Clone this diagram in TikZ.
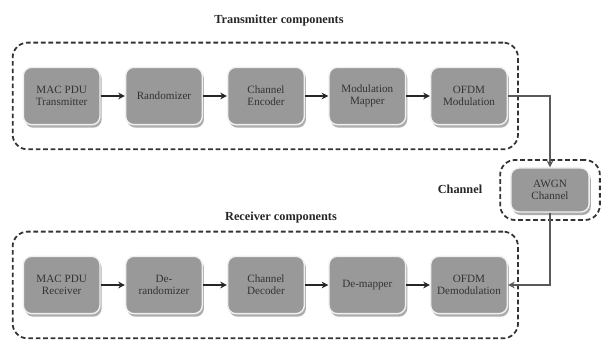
\documentclass[tikz,border=0pt]{standalone}
\usepackage{fontspec}
\setmainfont{Liberation Serif}
\usepackage{tikz}
\usetikzlibrary{arrows.meta,positioning,fit,shadows,backgrounds}

\begin{document}
\begin{tikzpicture}[
    every node/.style={font=\fontsize{9.5}{10}\selectfont, text=black!80},
    blk/.style={draw=gray!12, line width=1.2pt, rounded corners=2.5mm, fill=black!40, minimum width=2.3cm, minimum height=1.72cm, align=center,
        drop shadow={shadow xshift=1.4pt, shadow yshift=-2.6pt, fill=black!32, opacity=1}},
    chanblk/.style={blk, minimum width=2.35cm, minimum height=1.32cm},
    grp/.style={draw=black!80, dashed, dash pattern=on 4pt off 2.4pt, line width=1.5pt, rounded corners=4.5mm},
    title/.style={font=\fontsize{10.5}{11}\selectfont\bfseries, text=black!85},
    arr/.style={-{Stealth[length=2mm,width=2mm]}, line width=1.1pt, black!85},
    carr/.style={-{Stealth[length=2mm,width=2mm]}, line width=1.1pt, black!65},
]
\useasboundingbox (0,0) rectangle (18.27,-10.29);

% Transmitter chain (top row)
\node[blk] (macpdu) at (1.85, -2.88) {MAC PDU\\Transmitter};
\node[blk] (rand) at (4.92, -2.88) {Randomizer};
\node[blk] (enc) at (7.98, -2.88) {Channel\\Encoder};
\node[blk] (mapper) at (11.02, -2.88) {Modulation\\Mapper};
\node[blk] (ofdm) at (14.07, -2.88) {OFDM\\Modulation};

% Channel (right)
\node[chanblk] (awgn) at (16.5, -5.7) {AWGN\\Channel};

% Receiver chain (bottom row)
\node[blk] (rxmac) at (1.85, -8.55) {MAC PDU\\Receiver};
\node[blk] (derand) at (4.92, -8.55) {De-\\randomizer};
\node[blk] (dec) at (7.98, -8.55) {Channel\\Decoder};
\node[blk] (demap) at (11.02, -8.55) {De-mapper};
\node[blk] (ofdmrx) at (14.07, -8.55) {OFDM\\Demodulation};

% Dashed groups and their titles
\node[grp, fit=(macpdu)(ofdm), inner xsep=0.3cm, inner ysep=0.72cm] (txgrp) {};
\node[grp, fit=(rxmac)(ofdmrx), inner xsep=0.3cm, inner ysep=0.72cm] (rxgrp) {};
\node[grp, fit=(awgn), inner xsep=0.3cm, inner ysep=0.22cm] (chgrp) {};
\node[title] (txtitle) at (8.37, -0.63) {Transmitter components};
\node[title] (rxtitle) at (8.43, -6.54) {Receiver components};
\node[title] (chtitle) at (13.8, -5.67) {Channel};

% Data flow
\draw[arr] (macpdu) -- (rand);
\draw[arr] (rand) -- (enc);
\draw[arr] (enc) -- (mapper);
\draw[arr] (mapper) -- (ofdm);
\draw[arr] (rxmac) -- (derand);
\draw[arr] (derand) -- (dec);
\draw[arr] (dec) -- (demap);
\draw[arr] (demap) -- (ofdmrx);

% Through the channel
\draw[carr] (ofdm.east) -| (awgn.north);
\draw[carr] (awgn.south) |- (ofdmrx.east);

\end{tikzpicture}
\end{document}
